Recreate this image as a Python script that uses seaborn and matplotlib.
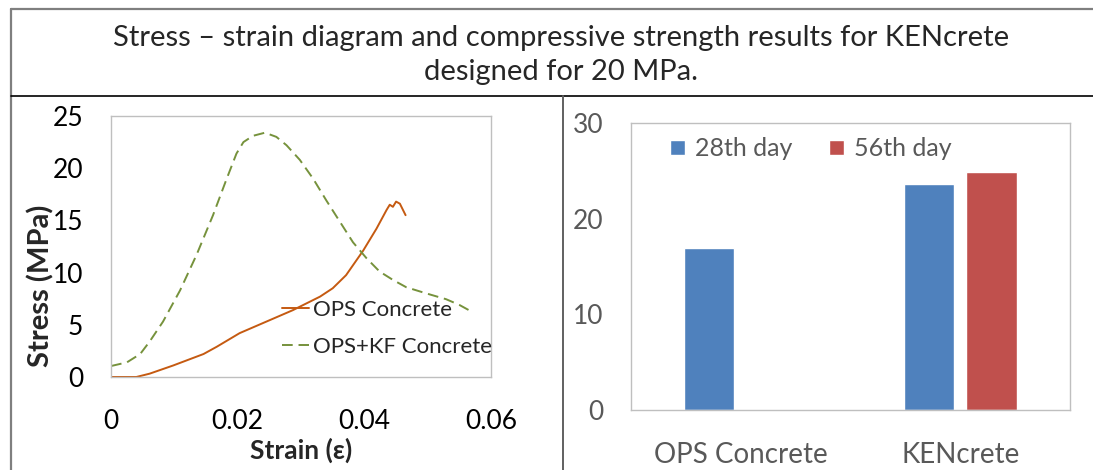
import numpy as np
import pandas as pd
import matplotlib.pyplot as plt
import seaborn as sns
from matplotlib.lines import Line2D

# datos
strain_ops = [0.0, 0.004, 0.0061, 0.0098, 0.0146, 0.0167, 0.0203, 0.0245, 0.0287, 0.033,
              0.035, 0.0371, 0.0398, 0.0419, 0.0435, 0.044, 0.0445, 0.045, 0.0456, 0.0465]
stress_ops = [0.0, 0.0, 0.32, 1.1, 2.2, 2.9, 4.2, 5.3, 6.4, 7.7,
              8.5, 9.75, 12.1, 14.2, 16.0, 16.5, 16.3, 16.8, 16.6, 15.5]

strain_kf = [0.0, 0.0025, 0.0046, 0.0061, 0.0082, 0.0109, 0.0135, 0.0161, 0.0182, 0.0198,
             0.0209, 0.0224, 0.0243, 0.0261, 0.0277, 0.0298, 0.0319, 0.034, 0.0361, 0.0382,
             0.0403, 0.0424, 0.0445, 0.0466, 0.0498, 0.0529, 0.055, 0.0571]
stress_kf = [1.05, 1.4, 2.2, 3.4, 5.3, 8.3, 11.7, 15.5, 18.9, 21.4,
             22.5, 23.1, 23.4, 23.0, 22.2, 20.8, 19.0, 16.9, 14.9, 12.9,
             11.4, 10.1, 9.3, 8.6, 8.0, 7.45, 6.9, 6.2]

mixes = ["OPS Concrete", "KENcrete"]
days = ["28th day", "56th day"]
strength_28 = [16.9, 23.6]
strength_56 = [np.nan, 24.9]

sns.set_theme(style="white")
plt.rcParams["font.family"] = ["Lato", "DejaVu Sans"]

curves = pd.concat([
    pd.DataFrame({"strain": strain_ops, "stress": stress_ops, "mix": "OPS Concrete"}),
    pd.DataFrame({"strain": strain_kf, "stress": stress_kf, "mix": "OPS+KF Concrete"}),
])
bars = pd.DataFrame({
    "mix": mixes * 2,
    "day": [days[0]] * 2 + [days[1]] * 2,
    "strength": strength_28 + strength_56,
}).dropna()

fig = plt.figure(figsize=(10.93, 4.70), dpi=100)
ax1 = fig.add_axes([0.1016, 0.1979, 0.3477, 0.5553])
ax2 = fig.add_axes([0.5773, 0.1277, 0.4016, 0.6106])

# grafica esfuerzo - deformacion
sns.lineplot(data=curves, x="strain", y="stress", hue="mix", style="mix", sort=False,
             palette={"OPS Concrete": "#C55A11", "OPS+KF Concrete": "#76923C"},
             dashes={"OPS Concrete": "", "OPS+KF Concrete": (5.5, 3)},
             linewidth=1.4, ax=ax1)
ax1.set_xlim(0, 0.06)
ax1.set_ylim(0, 25)
ax1.set_xticks([0, 0.02, 0.04, 0.06])
ax1.set_xticklabels(["0", "0.02", "0.04", "0.06"])
ax1.set_yticks([0, 5, 10, 15, 20, 25])
ax1.tick_params(axis="x", length=0, pad=23, labelsize=19, colors="black")
ax1.tick_params(axis="y", length=0, pad=20, labelsize=19, colors="black")
ax1.set_xlabel("Strain (ε)", fontsize=19, fontweight="bold", labelpad=3)
ax1.set_ylabel("Stress (MPa)", fontsize=21, fontweight="bold")
ax1.yaxis.set_label_coords(-0.15, 0.35)
for s in ax1.spines.values():
    s.set_color("#BFBFBF")
    s.set_linewidth(1)
ax1.legend(loc="upper left", bbox_to_anchor=(0.45, 0.295), frameon=False,
           fontsize=16, handlelength=1.2, handletextpad=0.2, borderpad=0,
           borderaxespad=0, labelspacing=0.75)

# resistencia a compresion
sns.barplot(data=bars, x="mix", y="strength", hue="day", order=mixes, hue_order=days,
            palette=["#4F81BD", "#C0504D"], saturation=1, width=0.574, gap=0.2,
            errorbar=None, ax=ax2)
ax2.set_xlim(-0.5, 1.5)
ax2.set_ylim(0, 30)
ax2.set_yticks([0, 10, 20, 30])
ax2.set_xlabel("")
ax2.set_ylabel("")
ax2.tick_params(axis="x", length=0, pad=23, labelsize=20, colors="#595959")
ax2.tick_params(axis="y", length=0, pad=20, labelsize=19, colors="#595959")
for s in ax2.spines.values():
    s.set_color("#BFBFBF")
    s.set_linewidth(1)
ax2.legend(loc="upper left", bbox_to_anchor=(0.09, 0.95), ncol=2, frameon=False,
           fontsize=18, handlelength=0.6, handleheight=0.6, handletextpad=0.4,
           columnspacing=1.45, borderpad=0, borderaxespad=0, labelcolor="#595959")

# titulo y bordes de la tabla
fig.text(0.513, 0.884, "Stress – strain diagram and compressive strength results for KENcrete\n"
         "designed for 20 MPa.", ha="center", va="center", fontsize=21, linespacing=1.38)
fig.add_artist(Line2D([11 / 1093, 1], [1 - 9 / 470] * 2, color="#7F7F7F", lw=1.6))
fig.add_artist(Line2D([11 / 1093] * 2, [0, 1 - 9 / 470], color="#7F7F7F", lw=1.6))
fig.add_artist(Line2D([11 / 1093, 1], [1 - 96 / 470] * 2, color="black", lw=1.2))
fig.add_artist(Line2D([563 / 1093] * 2, [0, 1 - 96 / 470], color="#606060", lw=1.4))

fig.savefig("out.png", dpi=100)
